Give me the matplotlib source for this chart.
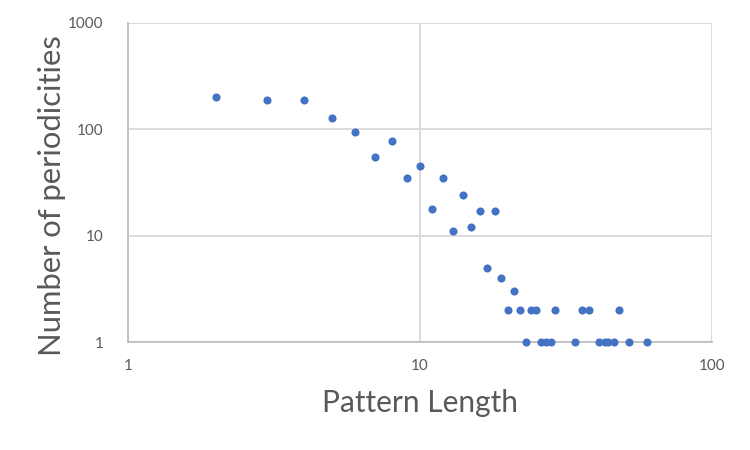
import matplotlib.pyplot as plt
from matplotlib.ticker import FixedLocator, FixedFormatter, NullLocator

# Pattern length vs number of periodicities
pattern_length = [2, 3, 4, 5, 6, 7, 8, 9, 10, 11, 12, 13, 14, 15, 16, 17, 18, 19,
                  20, 21, 22, 23, 24, 25, 26, 27, 28, 29, 34, 36, 38, 41, 43, 44,
                  46, 48, 52, 60]
periodicities = [203, 189, 189, 129, 95, 55, 78, 35, 45, 18, 35, 11, 24, 12, 17, 5, 17, 4,
                 2, 3, 2, 1, 2, 2, 1, 1, 1, 2, 1, 2, 2, 1, 1, 1,
                 1, 2, 1, 1]

x_ticks = [1, 10, 100]
y_ticks = [1, 10, 100, 1000]

plt.rcParams['font.family'] = ['Lato', 'DejaVu Sans']
text_color = '#595959'

fig = plt.figure(figsize=(7.5, 4.5), dpi=100)
ax = fig.add_axes([0.1707, 0.24, 0.7786, 0.709])

ax.scatter(pattern_length, periodicities, s=34, color='#4472C4', zorder=3,
           linewidths=0, clip_on=False)

ax.set_xscale('log')
ax.set_yscale('log')
ax.set_xlim(1, 100)
ax.set_ylim(1, 1000)

ax.xaxis.set_major_locator(FixedLocator(x_ticks))
ax.xaxis.set_major_formatter(FixedFormatter([str(v) for v in x_ticks]))
ax.yaxis.set_major_locator(FixedLocator(y_ticks))
ax.yaxis.set_major_formatter(FixedFormatter([str(v) for v in y_ticks]))
ax.xaxis.set_minor_locator(NullLocator())
ax.yaxis.set_minor_locator(NullLocator())

ax.grid(True, color='#D9D9D9', linewidth=1.3)
ax.set_axisbelow(True)
for side in ['top', 'right']:
    ax.spines[side].set_visible(False)
for side in ['left', 'bottom']:
    ax.spines[side].set_color('#BFBFBF')
    ax.spines[side].set_linewidth(1.3)

ax.tick_params(length=0, labelsize=11, labelcolor=text_color)
ax.tick_params(axis='x', pad=12)
ax.tick_params(axis='y', pad=17.5)

ax.set_xlabel('Pattern Length', fontsize=21.5, color=text_color, labelpad=12)
ax.set_ylabel('Number of periodicities', fontsize=22.3, color=text_color)
ax.yaxis.set_label_coords(-0.107, 0.458)

fig.savefig('out.png', dpi=100, facecolor='white')
